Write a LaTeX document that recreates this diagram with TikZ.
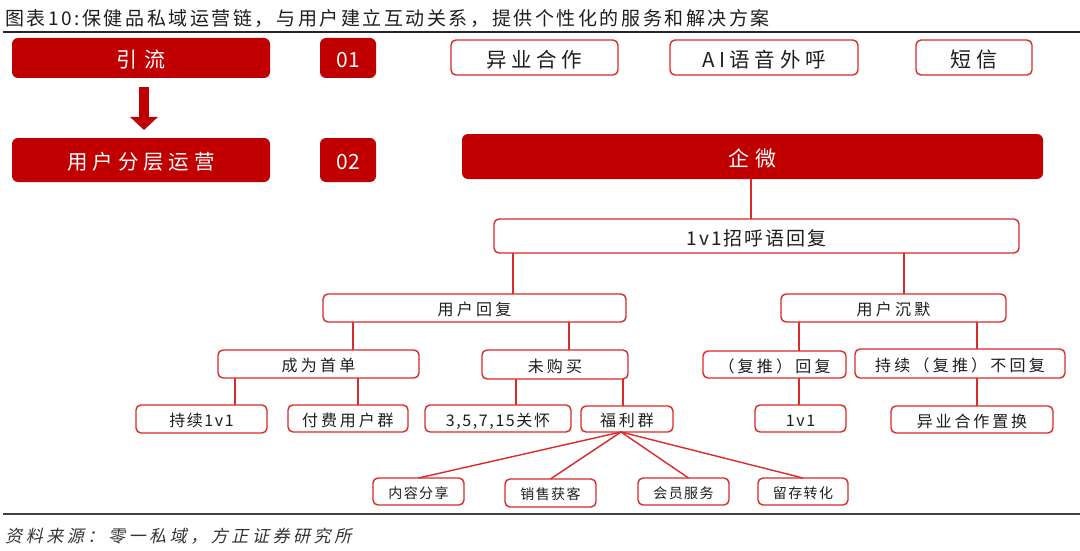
\documentclass[tikz,border=0pt]{standalone}
\usepackage{fontspec}
\setmainfont{Noto Sans CJK SC}
\newfontfamily\srcfont[FakeSlant=0.22]{Noto Sans CJK SC}
\usetikzlibrary{arrows.meta}
\definecolor{dred}{HTML}{C00000}
\definecolor{bred}{HTML}{DA2A2A}
\definecolor{txt}{HTML}{1E1E1E}
\newcommand\tx[3]{{\fontsize{#1}{#1}\selectfont\addfontfeature{LetterSpace=#2}\raisebox{0pt}[0.95em][0pt]{#3}}}
\newcommand\rb[7]{\node[#6, minimum width={(#4)-(#2)}, minimum height={(#5)-(#3)}] (#1) at ({((#2)+(#4))/2},{((#3)+(#5))/2}) {#7};}
\tikzset{
  darkbox/.style={fill=dred, draw=none, rounded corners=6pt, inner sep=0pt, outer sep=0pt, text=white},
  wbox/.style={fill=white, draw=bred, line width=1.4pt, rounded corners=5pt, inner sep=0pt, outer sep=0pt, text=txt},
  conn/.style={draw=bred, line width=1.4pt},
  rule/.style={line width=2.4pt, draw=black!85}
}
\begin{document}
\begin{tikzpicture}[x=1pt,y=-1pt]
\useasboundingbox (0,0) rectangle (1080,551);
\node[anchor=west, text=txt, inner sep=0pt] (title) at (5,16) {\tx{19}{13.5}{图表10:保健品私域运营链，与用户建立互动关系，提供个性化的服务和解决方案}};
\draw[rule] (3,32) -- (1080,32);
\draw[rule, draw=black!75] (3,514) -- (1080,514);
\node[anchor=west, text=black!80, inner sep=0pt] (src) at (5,534) {\srcfont\tx{17}{21}{资料来源：零一私域，方正证券研究所}};

% row 1
\rb{yl}{12}{38}{270}{78}{darkbox}{\tx{21}{30}{引流}}
\rb{n01}{320}{38}{376}{78}{darkbox}{\tx{21}{3}{01}}
\rb{yy}{451}{40}{618}{75}{wbox}{\tx{20.5}{22}{异业合作}}
\rb{ai}{670}{40}{858}{75}{wbox}{\tx{20.5}{22}{AI语音外呼}}
\rb{dx}{916}{40}{1032}{75}{wbox}{\tx{21}{28}{短信}}
% row 2
\rb{yh}{12}{138}{270}{182}{darkbox}{\tx{20.5}{24}{用户分层运营}}
\rb{n02}{320}{138}{376}{182}{darkbox}{\tx{21}{3}{02}}
\rb{qw}{462}{134}{1043}{179}{darkbox}{\tx{21}{30}{企微}}
\draw[dred, line width=10.5pt, -{Triangle[width=27pt,length=13pt]}] ([xshift=3pt,yshift=-9pt]yl.south) -- ([xshift=3pt,yshift=8pt]yh.north);
% tree
\rb{hy}{494}{219}{1019}{253}{wbox}{\tx{19}{10}{1v1招呼语回复}}
\rb{hf}{323}{294}{626}{322}{wbox}{\tx{16}{20}{用户回复}}
\rb{cm}{781}{294}{1006}{322}{wbox}{\tx{16}{20}{用户沉默}}
\rb{sd}{218}{350}{419}{378}{wbox}{\tx{16}{20}{成为首单}}
\rb{wg}{482}{350}{628}{379}{wbox}{\tx{16}{20}{未购买}}
\rb{ft}{703}{351}{846}{378}{wbox}{\tx{16}{20}{（复推）回复}}
\rb{bh}{855}{349}{1065}{378}{wbox}{\tx{16}{20}{持续（复推）不回复}}
\rb{l1}{136}{405}{267}{433}{wbox}{\tx{16}{10}{持续1v1}}
\rb{l2}{288}{405}{408}{432}{wbox}{\tx{16}{18}{付费用户群}}
\rb{l3}{425}{405}{571}{432}{wbox}{\tx{16}{10}{3,5,7,15关怀}}
\rb{l4}{581}{406}{673}{432}{wbox}{\tx{16}{18}{福利群}}
\rb{l5}{755}{405}{846}{432}{wbox}{\tx{16}{10}{1v1}}
\rb{l6}{891}{406}{1053}{433}{wbox}{\tx{16}{18}{异业合作置换}}
\rb{m1}{373}{478}{464}{505}{wbox}{\tx{14}{10}{内容分享}}
\rb{m2}{505}{479}{596}{507}{wbox}{\tx{14}{10}{销售获客}}
\rb{m3}{638}{478}{729}{505}{wbox}{\tx{14}{10}{会员服务}}
\rb{m4}{758}{478}{848}{505}{wbox}{\tx{14}{10}{留存转化}}

\coordinate (x751) at (751,0);
\coordinate (x513) at (513,0);
\coordinate (x904) at (904,0);
\coordinate (x353) at (353,0);
\coordinate (x569) at (569,0);
\coordinate (x799) at (799,0);
\coordinate (x977) at (977,0);
\coordinate (x235) at (235,0);
\coordinate (x358) at (358,0);
\coordinate (x516) at (516,0);
\coordinate (x623) at (623,0);

\draw[conn] (qw.south -| x751) -- (hy.north -| x751);
\draw[conn] (hy.south -| x513) -- (hf.north -| x513);
\draw[conn] (hy.south -| x904) -- (cm.north -| x904);
\draw[conn] (hf.south -| x353) -- (sd.north -| x353);
\draw[conn] (hf.south -| x569) -- (wg.north -| x569);
\draw[conn] (cm.south -| x799) -- (ft.north -| x799);
\draw[conn] (cm.south -| x977) -- (bh.north -| x977);
\draw[conn] (sd.south -| x235) -- (l1.north -| x235);
\draw[conn] (sd.south -| x358) -- (l2.north -| x358);
\draw[conn] (wg.south -| x516) -- (l3.north -| x516);
\draw[conn] (wg.south -| x623) -- (l4.north -| x623);
\draw[conn] (ft.south -| x799) -- (l5.north -| x799);
\draw[conn] (bh.south -| x977) -- (l6.north -| x977);
\coordinate (fan) at ([xshift=-6pt]l4.south);
\draw[conn] (fan) -- (m1.north);
\draw[conn] (fan) -- (m2.north);
\draw[conn] (fan) -- ([xshift=5pt]m3.north);
\draw[conn] (fan) -- (m4.north);
\end{tikzpicture}
\end{document}
